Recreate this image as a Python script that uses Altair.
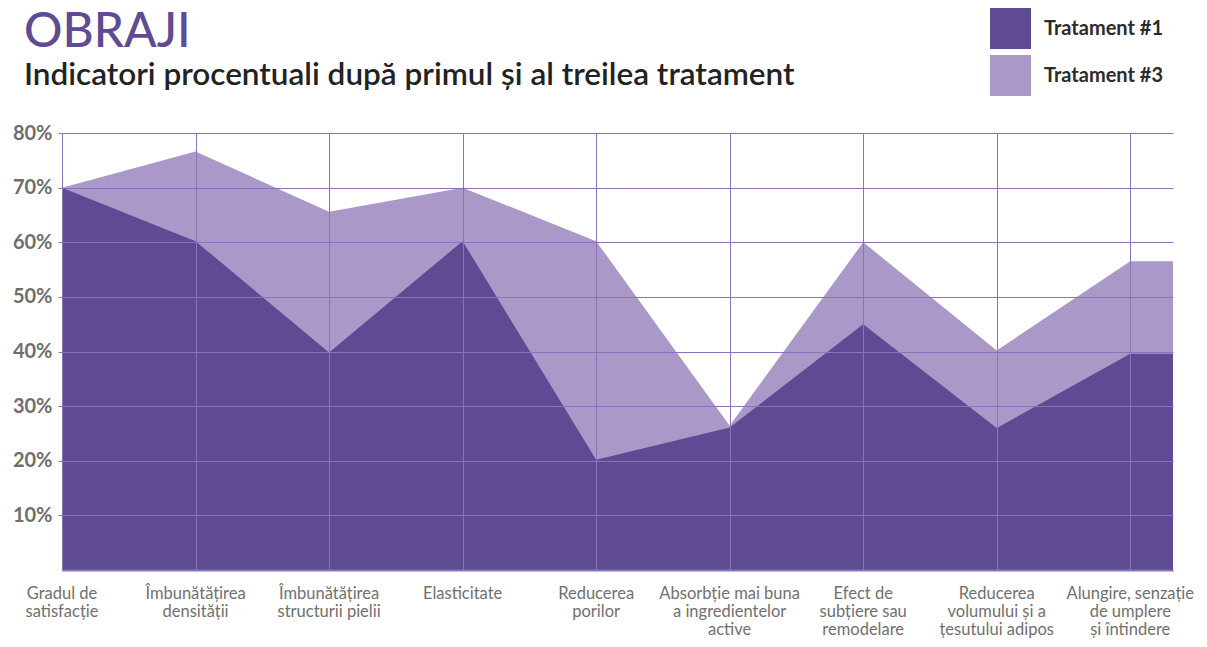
import altair as alt
import pandas as pd

title_text = ["OBRAJI"]
subtitle_text = ["Indicatori procentuali după primul și al treilea tratament"]
categories = [
    "Gradul de\nsatisfacție",
    "Îmbunătățirea\ndensității",
    "Îmbunătățirea\nstructurii pielii",
    "Elasticitate",
    "Reducerea\nporilor",
    "Absorbție mai buna\na ingredientelor\nactive",
    "Efect de\nsubțiere sau\nremodelare",
    "Reducerea\nvolumului și a\nțesutului adipos",
    "Alungire, senzație\nde umplere\nși întindere",
]
tratament1 = [70.0, 60.2, 39.8, 60.2, 20.2, 26.1, 45.0, 26.0, 39.6]
tratament3 = [70.0, 76.6, 65.6, 70.0, 60.2, 26.4, 60.0, 40.2, 56.5]
series = ["Tratament #1", "Tratament #3"]
colors = ["#5f4a94", "#aa99c8"]
y_ticks = [10, 20, 30, 40, 50, 60, 70, 80]
x_end = 8.32  # plot extends a bit past the last category

FONT = "Lato"
GRID = "#8c72b9"

rows = []
for name, vals in zip(series, [tratament1, tratament3]):
    for i, v in enumerate(vals):
        rows.append({"x": i, "value": v, "series": name})
    rows.append({"x": x_end, "value": vals[-1], "series": name})
df = pd.DataFrame(rows)
lab = pd.DataFrame({"x": list(range(len(categories))), "label": categories})

W, H = 1111, 437
xscale = alt.Scale(domain=[0, x_end], nice=False, zero=False)
yscale = alt.Scale(domain=[0, 80], nice=False)

color = alt.Color(
    "series:N",
    scale=alt.Scale(domain=series, range=colors),
    legend=alt.Legend(
        title=None,
        orient="none",
        legendX=928,
        legendY=-125,
        symbolType="square",
        symbolSize=1681,
        symbolStrokeWidth=0,
        symbolOpacity=1,
        labelFont=FONT,
        labelFontSize=20,
        labelFontWeight="bold",
        labelColor="#2b2b2b",
        labelOffset=13,
        rowPadding=6,
    ),
)

xaxis = alt.Axis(
    values=list(range(len(categories))),
    labels=False,
    ticks=False,
    grid=True,
    gridColor=GRID,
    gridWidth=1,
    domain=True,
    domainColor=GRID,
    domainWidth=2,
    title=None,
    zindex=1,
)
yaxis = alt.Axis(
    values=y_ticks,
    labelExpr="datum.value + '%'",
    labelFont=FONT,
    labelFontSize=20,
    labelFontWeight="bold",
    labelColor="#6e6e6e",
    labelPadding=6,
    ticks=True,
    tickSize=4,
    tickColor=GRID,
    grid=True,
    gridColor=GRID,
    gridWidth=1,
    domain=False,
    title=None,
    zindex=1,
)

base = alt.Chart(df)

def area_for(name):
    return base.transform_filter(alt.datum.series == name).mark_area(
        opacity=1, interpolate="linear"
    ).encode(
        x=alt.X("x:Q", scale=xscale, axis=xaxis),
        y=alt.Y("value:Q", scale=yscale, axis=yaxis, stack=None),
        color=color,
    )

labels = alt.Chart(lab).mark_text(
    baseline="top",
    align="center",
    lineBreak="\n",
    font=FONT,
    fontSize=16.5,
    lineHeight=18,
    color="#707070",
).encode(
    x=alt.X("x:Q", scale=xscale),
    y=alt.value(H + 16),
    text="label:N",
)

title = alt.Chart(pd.DataFrame({"t": title_text})).mark_text(
    align="left",
    baseline="alphabetic",
    font=FONT,
    fontSize=48,
    fontWeight=500,
    color="#5f4a94",
).encode(x=alt.value(-38), y=alt.value(-86), text="t:N")

subtitle = alt.Chart(pd.DataFrame({"t": subtitle_text})).mark_text(
    align="left",
    baseline="alphabetic",
    font=FONT,
    fontSize=31.5,
    fontWeight=600,
    color="#222222",
).encode(x=alt.value(-38), y=alt.value(-48), text="t:N")

chart = alt.layer(
    area_for(series[1]), area_for(series[0]), labels, title, subtitle
).properties(
    width=W,
    height=H,
    autosize=alt.AutoSizeParams(type="none"),
    padding={"left": 54, "top": 125, "right": 26, "bottom": 69},
).configure_view(stroke=None)

chart.save("out.html", embed_options={"renderer": "svg", "actions": False})
